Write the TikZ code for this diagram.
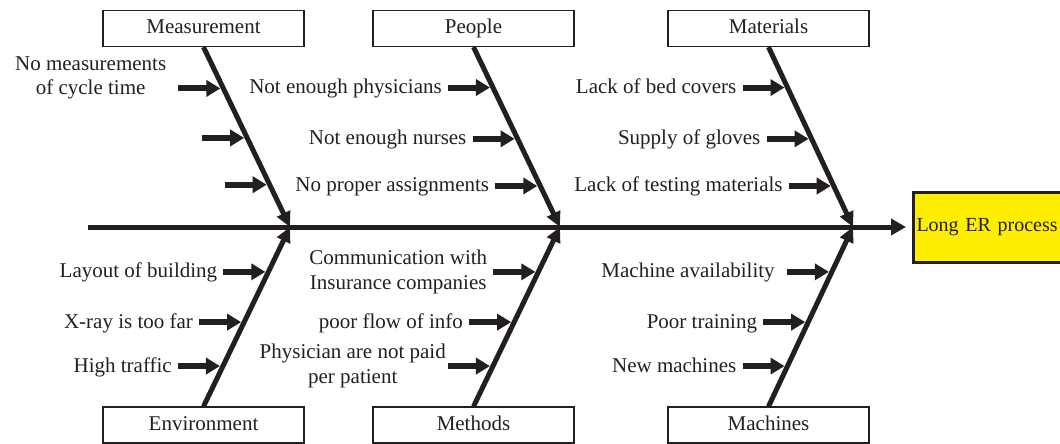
\documentclass[tikz,border=0pt]{standalone}
\usepackage{amsmath,amssymb}
\usepackage{fontspec}
\setmainfont{Liberation Serif}
\usepackage{tikz}
\usetikzlibrary{positioning,calc,arrows.meta}

\definecolor{ink}{RGB}{35,31,32}
\definecolor{effectyellow}{RGB}{255,238,0}

\tikzset{
  catbox/.style={draw=ink, line width=1.1pt, minimum width=201pt, minimum height=36pt, inner sep=0pt, text height=15pt, text depth=4.5pt},
  effectbox/.style={draw=ink, line width=3pt, fill=effectyellow, minimum height=70pt, align=left, text width=165pt, inner xsep=3pt, font=\fontsize{20}{24}\selectfont},
  spine/.style={line width=5pt, -{Triangle[length=15pt,width=16pt]}, shorten >=6pt},
  bone/.style={line width=5pt, -{Triangle[length=15pt,width=14pt]}},
  cause/.style={line width=6pt, -{Triangle[length=14pt,width=16pt]}, shorten >=3pt},
  lbl/.style={text=ink, align=center, inner xsep=6pt, inner ysep=0pt},
  lbl1/.style={lbl, text height=14.5pt, text depth=2.5pt}
}

\begin{document}
\begin{tikzpicture}[x=1pt,y=-1pt,ink,font=\fontsize{21}{24.5}\selectfont]
\useasboundingbox (0,0) rectangle (1060,444);

% categories
\node[catbox] (meas) at (203.5,28.5) {Measurement};
\node[catbox] (peop) at (473.5,28.5) {People};
\node[catbox] (mate) at (768.5,28.5) {Materials};
\node[catbox] (envi) at (203.5,425) {Environment};
\node[catbox] (meth) at (473.5,425) {Methods};
\node[catbox] (mach) at (768.5,425) {Machines};

% spine and effect
\node[effectbox, anchor=west] (effect) at (912,227) {Long ER process};
\coordinate (tail) at (88,227);
\draw[spine] (tail) -- (effect);

% bones
\coordinate (j1) at (290,227);
\coordinate (j2) at (560,227);
\coordinate (j3) at (853,227);
\draw[bone] (meas.south) -- (j1);
\draw[bone] (peop.south) -- (j2);
\draw[bone] (mate.south) -- (j3);
\draw[bone] (envi.north) -- (j1);
\draw[bone] (meth.north) -- (j2);
\draw[bone] (mach.north) -- (j3);

% Measurement
\coordinate (m1) at ($(meas.south)!.23!(j1)$);
\coordinate (m2) at ($(meas.south)!.505!(j1)$);
\coordinate (m3) at ($(meas.south)!.765!(j1)$);
\node[lbl, left=45pt of m1, yshift=10.5pt, xshift=-6pt] (m1t) {No measurements\\of cycle time};
\coordinate (m2s) at ($(m2)+(-45,0)$);
\coordinate (m3s) at ($(m3)+(-45,0)$);
\draw[cause] ($(m1)+(-45,0)$) -- (m1);
\draw[cause] (m2s) -- (m2);
\draw[cause] (m3s) -- (m3);

% People
\coordinate (p1) at ($(peop.south)!.225!(j2)$);
\coordinate (p2) at ($(peop.south)!.51!(j2)$);
\coordinate (p3) at ($(peop.south)!.772!(j2)$);
\node[lbl1, left=45pt of p1] (p1t) {Not enough physicians};
\node[lbl1, left=45pt of p2] (p2t) {Not enough nurses};
\node[lbl1, left=45pt of p3] (p3t) {No proper assignments};
\draw[cause] (p1t.east) -- (p1);
\draw[cause] (p2t.east) -- (p2);
\draw[cause] (p3t.east) -- (p3);

% Materials
\coordinate (t1) at ($(mate.south)!.225!(j3)$);
\coordinate (t2) at ($(mate.south)!.51!(j3)$);
\coordinate (t3) at ($(mate.south)!.772!(j3)$);
\node[lbl1, left=45pt of t1] (t1t) {Lack of bed covers};
\node[lbl1, left=45pt of t2] (t2t) {Supply of gloves};
\node[lbl1, left=45pt of t3] (t3t) {Lack of testing materials};
\draw[cause] (t1t.east) -- (t1);
\draw[cause] (t2t.east) -- (t2);
\draw[cause] (t3t.east) -- (t3);

% Environment
\coordinate (e1) at ($(envi.north)!.75!(j1)$);
\coordinate (e2) at ($(envi.north)!.47!(j1)$);
\coordinate (e3) at ($(envi.north)!.225!(j1)$);
\node[lbl1, left=45pt of e1] (e1t) {Layout of building};
\node[lbl1, left=45pt of e2] (e2t) {X-ray is too far};
\node[lbl1, left=45pt of e3] (e3t) {High traffic};
\draw[cause] (e1t.east) -- (e1);
\draw[cause] (e2t.east) -- (e2);
\draw[cause] (e3t.east) -- (e3);

% Methods
\coordinate (d1) at ($(meth.north)!.75!(j2)$);
\coordinate (d2) at ($(meth.north)!.47!(j2)$);
\coordinate (d3) at ($(meth.north)!.225!(j2)$);
\node[lbl, left=45pt of d1] (d1t) {Communication with\\Insurance companies};
\node[lbl1, left=45pt of d2] (d2t) {poor flow of info};
\node[lbl, left=45pt of d3, xshift=4pt] (d3t) {Physician are not paid\\per patient};
\draw[cause] (d1t.east) -- (d1);
\draw[cause] (d2t.east) -- (d2);
\draw[cause] ($(d3)+(-45,0)$) -- (d3);

% Machines
\coordinate (k1) at ($(mach.north)!.75!(j3)$);
\coordinate (k2) at ($(mach.north)!.47!(j3)$);
\coordinate (k3) at ($(mach.north)!.225!(j3)$);
\node[lbl1, left=45pt of k1, xshift=-6pt] (k1t) {Machine availability};
\node[lbl1, left=45pt of k2] (k2t) {Poor training};
\node[lbl1, left=45pt of k3] (k3t) {New machines};
\draw[cause] ($(k1)+(-45,0)$) -- (k1);
\draw[cause] (k2t.east) -- (k2);
\draw[cause] (k3t.east) -- (k3);
\end{tikzpicture}
\end{document}
